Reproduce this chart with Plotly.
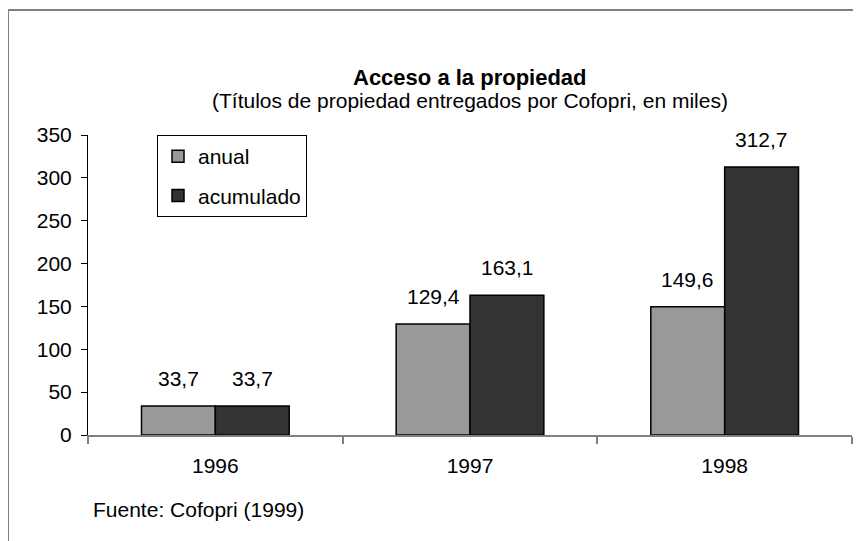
import plotly.graph_objects as go

years = ["1996", "1997", "1998"]
anual = [33.7, 129.4, 149.6]
acumulado = [33.7, 163.1, 312.7]
y_ticks = [0, 50, 100, 150, 200, 250, 300, 350]

FONT = "Liberation Sans, Arial, sans-serif"
FS = 21

fig = go.Figure()
fig.add_trace(go.Bar(name="anual", x=years, y=anual,
                     marker=dict(color="#999999", line=dict(color="#000000", width=1.5)),
                     legendgroup="a"))
fig.add_trace(go.Bar(name="acumulado", x=years, y=acumulado,
                     marker=dict(color="#333333", line=dict(color="#000000", width=1.5)),
                     legendgroup="b"))

# value labels (x given as category index)
shift = 37
for vals, xs in ((anual, -shift), (acumulado, shift)):
    for i, v in enumerate(vals):
        fig.add_annotation(x=i, y=v, text=f"{v:.1f}".replace(".", ","),
                           showarrow=False, xshift=xs, yshift=14, yanchor="bottom",
                           font=dict(size=FS, color="#000000", family=FONT))

# titles
fig.add_annotation(xref="paper", yref="paper", x=0.5, y=(435 - 77) / 300,
                   text="<b>Acceso a la propiedad</b>", showarrow=False,
                   yanchor="middle", xanchor="center",
                   font=dict(size=22, color="#000000", family=FONT))
fig.add_annotation(xref="paper", yref="paper", x=0.5, y=(435 - 100) / 300,
                   text="(Títulos de propiedad entregados por Cofopri, en miles)", showarrow=False,
                   yanchor="middle", xanchor="center",
                   font=dict(size=FS, color="#000000", family=FONT))
fig.add_annotation(xref="paper", yref="paper", x=(91 - 88) / 764, y=(435 - 509) / 300,
                   text="Fuente: Cofopri (1999)", showarrow=False,
                   yanchor="middle", xanchor="left",
                   font=dict(size=FS, color="#000000", family=FONT))

# outer frame (only top/left visible)
fig.add_shape(type="rect", xref="paper", yref="paper",
              x0=(8 - 88) / 764, x1=1.2, y0=-1.0, y1=(435 - 10) / 300,
              line=dict(color="#808080", width=2), fillcolor="rgba(0,0,0,0)", layer="below")

# page body has an 8px margin, so the figure is sized to the remaining viewport
fig.update_layout(
    width=853, height=533,
    margin=dict(l=80, r=9, t=127, b=106),
    paper_bgcolor="white", plot_bgcolor="white",
    barmode="group", bargap=0.42, bargroupgap=0,
    font=dict(family=FONT, size=FS, color="#000000"),
    showlegend=True,
    legend=dict(x=(157 - 88) / 764, y=1.0, xanchor="left", yanchor="top",
                bordercolor="#000000", borderwidth=1, bgcolor="white",
                font=dict(size=FS, family=FONT), traceorder="grouped",
                tracegroupgap=9),
    xaxis=dict(type="category", range=[-0.5, 2.5], showline=True, linecolor="#808080",
               linewidth=1.5, ticks="outside", tickson="boundaries", ticklen=7,
               tickcolor="#808080", tickwidth=1.5, ticklabelstandoff=11,
               showgrid=False, zeroline=False, tickfont=dict(size=FS, family=FONT)),
    yaxis=dict(range=[0, 350], tickvals=y_ticks, showline=True, linecolor="#000000",
               linewidth=1, ticks="outside", ticklen=6, tickcolor="#000000",
               showgrid=False, zeroline=False, ticklabelstandoff=5,
               tickfont=dict(size=FS, family=FONT)),
    yaxis2=dict(range=[0, 350], tickvals=y_ticks, overlaying="y", side="left",
                showline=False, ticks="inside", ticklen=5, tickcolor="#000000",
                showticklabels=False, showgrid=False, zeroline=False),
)

fig.write_html("out.html")
